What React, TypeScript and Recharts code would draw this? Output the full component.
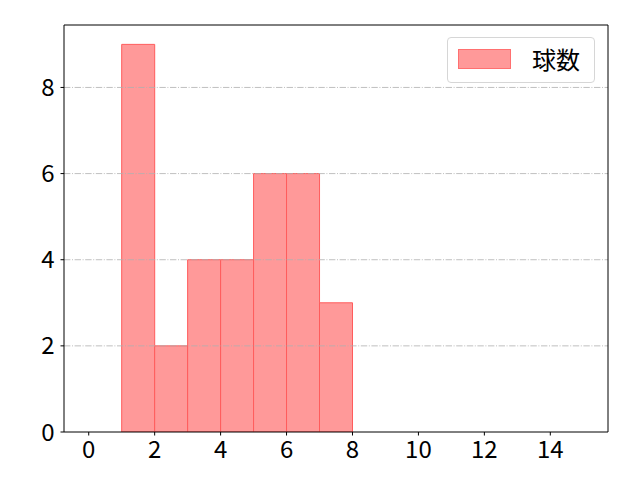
import React from "react";
import { ComposedChart, Bar, XAxis, YAxis, ReferenceLine, Legend } from "recharts";

const binCenters = [1.5, 2.5, 3.5, 4.5, 5.5, 6.5, 7.5];
const counts = [9, 2, 4, 4, 6, 6, 3];
const xTicks = [0, 2, 4, 6, 8, 10, 12, 14];
const yTicks = [0, 2, 4, 6, 8];
const gridTicks = [2, 4, 6, 8];
const seriesName = "球数";
const xDomain = [-0.75, 15.75];
const yDomain = [0, 9.45];

const data = binCenters.map((x, i) => ({ x, count: counts[i] }));

const FONT = "'Noto Sans CJK JP', 'Noto Sans', sans-serif";

const renderLegend = () => (
  <div
    style={{
      position: "absolute",
      left: 447,
      top: 37,
      width: 148,
      height: 46,
      border: "1px solid #d6d6d6",
      borderRadius: 4,
      background: "rgba(255,255,255,0.8)",
      boxSizing: "border-box",
      fontFamily: FONT,
    }}
  >
    <div
      style={{
        position: "absolute",
        left: 10,
        top: 11,
        width: 53,
        height: 20,
        background: "#ff9999",
        border: "1px solid #ff7070",
        boxSizing: "border-box",
      }}
    />
    <div
      style={{
        position: "absolute",
        left: 84,
        top: 4,
        fontSize: 24,
        lineHeight: "34px",
        color: "#000",
      }}
    >
      {seriesName}
    </div>
  </div>
);

export default function App() {
  return (
    <div style={{ position: "absolute", left: 0, top: 0, width: 640, height: 480, background: "#fff" }}>
      <ComposedChart
        width={640}
        height={480}
        data={data}
        margin={{ top: 24, right: 31, left: 0, bottom: 0 }}
        barCategoryGap={0}
        barGap={0}
      >
        <XAxis
          dataKey="x"
          type="number"
          domain={xDomain}
          ticks={xTicks}
          allowDataOverflow
          height={48}
          stroke="#000"
          tickLine={{ stroke: "#000" }}
          tickSize={3.5}
          tickMargin={5}
          tick={{ fill: "#000", fontSize: 24, fontFamily: FONT }}
          interval={0}
        />
        <XAxis
          xAxisId="top"
          dataKey="x"
          type="number"
          domain={xDomain}
          orientation="top"
          height={1}
          tick={false}
          tickLine={false}
          stroke="#000"
          allowDataOverflow
        />
        <YAxis
          type="number"
          domain={yDomain}
          ticks={yTicks}
          allowDataOverflow
          width={64}
          stroke="#000"
          tickLine={{ stroke: "#000" }}
          tickSize={3.5}
          tickMargin={6}
          tick={{ fill: "#000", fontSize: 24, fontFamily: FONT }}
          interval={0}
        />
        <YAxis
          yAxisId="right"
          type="number"
          domain={yDomain}
          orientation="right"
          width={1}
          tick={false}
          tickLine={false}
          stroke="#000"
          allowDataOverflow
        />
        <Bar
          dataKey="count"
          name={seriesName}
          fill="#ff9999"
          stroke="#ff5c5c"
          strokeWidth={1}
          isAnimationActive={false}
        />
        {gridTicks.map((t) => (
          <ReferenceLine
            key={t}
            y={t}
            stroke="#b0b0b0"
            strokeWidth={0.8}
            strokeDasharray="6.4 1.6 1 1.6"
          />
        ))}
        <Legend content={renderLegend} wrapperStyle={{ position: "absolute", left: 0, top: 0, width: 0, height: 0 }} />
      </ComposedChart>
    </div>
  );
}
